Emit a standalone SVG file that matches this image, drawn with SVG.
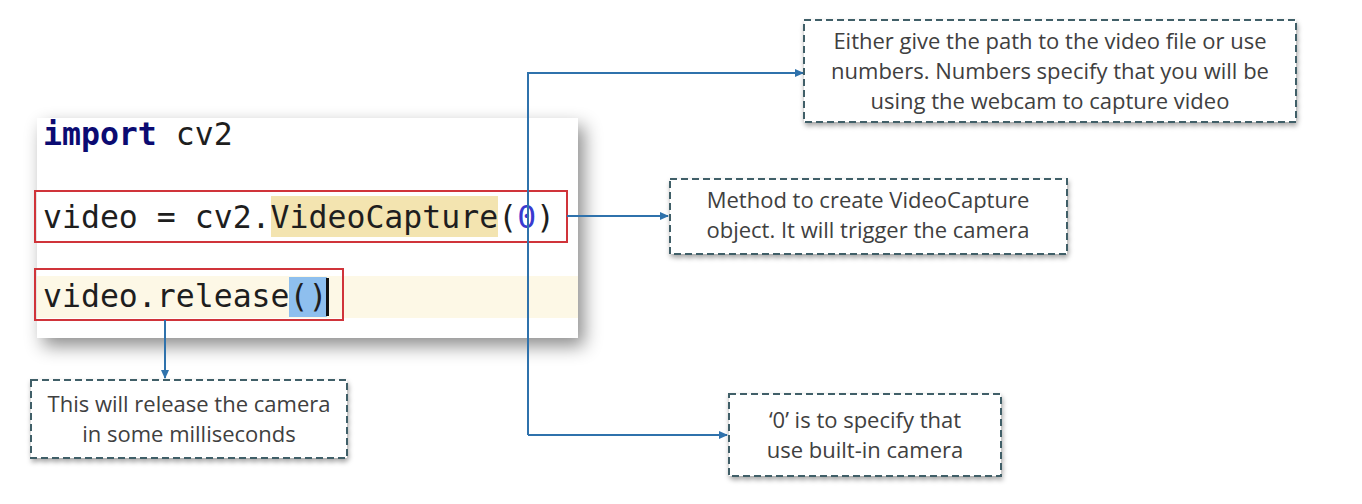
<svg xmlns="http://www.w3.org/2000/svg" width="1362" height="504" viewBox="0 0 1362 504">
<style>
.code{font-family:"DejaVu Sans Mono",monospace;font-size:31.5px;fill:#1e1e1e}
.kw{font-weight:bold;fill:#0b0b72}
.note{fill:#ffffff;stroke:#3f5f68;stroke-width:2;stroke-dasharray:7 4}
.nt{font-family:"Open Sans","Liberation Sans",sans-serif;font-size:22px;fill:#404040;text-anchor:middle}
.red{fill:none;stroke:#d0343a;stroke-width:2}
.con{fill:none;stroke:#2f72ac;stroke-width:2}
</style>
<defs>
<filter id="panelShadow" x="-10%" y="-15%" width="125%" height="140%">
<feDropShadow dx="6" dy="8" stdDeviation="9" flood-color="#000" flood-opacity="0.45"/>
</filter>
<filter id="noteShadow" x="-5%" y="-10%" width="110%" height="125%">
<feDropShadow dx="1" dy="3" stdDeviation="2.5" flood-color="#000" flood-opacity="0.35"/>
</filter>
<marker id="arr" markerWidth="10" markerHeight="10" refX="8" refY="5" orient="auto" markerUnits="userSpaceOnUse">
<path d="M0,1 L9,5 L0,9 z" fill="#2f72ac"/>
</marker>
</defs>
<rect width="1362" height="504" fill="#ffffff"/>

<g id="code-panel">
<rect x="37" y="118" width="541" height="220" fill="#ffffff" filter="url(#panelShadow)"/>
<rect x="37" y="276" width="541" height="42" fill="#fdf8e6"/>
<rect x="271" y="196" width="227" height="41" fill="#f3e4b0"/>
<rect x="289" y="277" width="38" height="40" fill="#8ebfee"/>
<rect x="326" y="278" width="3" height="38" fill="#111"/>
<text class="code" x="43" y="145"><tspan class="kw">import</tspan> cv2</text>
<text class="code" x="43" y="228">video = cv2.VideoCapture(<tspan fill="#3a3ad0">0</tspan>)</text>
<text class="code" x="43" y="307">video.release()</text>
</g>

<g id="red-box-capture"><rect class="red" x="35" y="191" width="532" height="51"/></g>
<g id="red-box-release"><rect class="red" x="35" y="269" width="308" height="51"/></g>

<g id="connectors">
<path class="con" d="M528,435 L528,73 L803,73" marker-end="url(#arr)"/>
<path class="con" d="M528,435 L727,435" marker-end="url(#arr)"/>
<path class="con" d="M567,216 L668,216" marker-end="url(#arr)"/>
<path class="con" d="M165,320 L165,378" marker-end="url(#arr)"/>
</g>

<g id="note-source">
<rect class="note" x="804" y="20" width="492" height="102" filter="url(#noteShadow)"/>
<text class="nt" x="1050" y="49">Either give the path to the video file or use</text>
<text class="nt" x="1050" y="79">numbers. Numbers specify that you will be</text>
<text class="nt" x="1050" y="109">using the webcam to capture video</text>
</g>

<g id="note-method">
<rect class="note" x="670" y="179" width="397" height="75" filter="url(#noteShadow)"/>
<text class="nt" x="868" y="208">Method to create VideoCapture</text>
<text class="nt" x="868" y="238">object. It will trigger the camera</text>
</g>

<g id="note-release">
<rect class="note" x="31" y="380" width="316" height="78" filter="url(#noteShadow)"/>
<text class="nt" x="189" y="412">This will release the camera</text>
<text class="nt" x="189" y="442">in some milliseconds</text>
</g>

<g id="note-zero">
<rect class="note" x="729" y="394" width="272" height="82" filter="url(#noteShadow)"/>
<text class="nt" x="865" y="428">‘0’ is to specify that</text>
<text class="nt" x="865" y="458">use built-in camera</text>
</g>
</svg>
